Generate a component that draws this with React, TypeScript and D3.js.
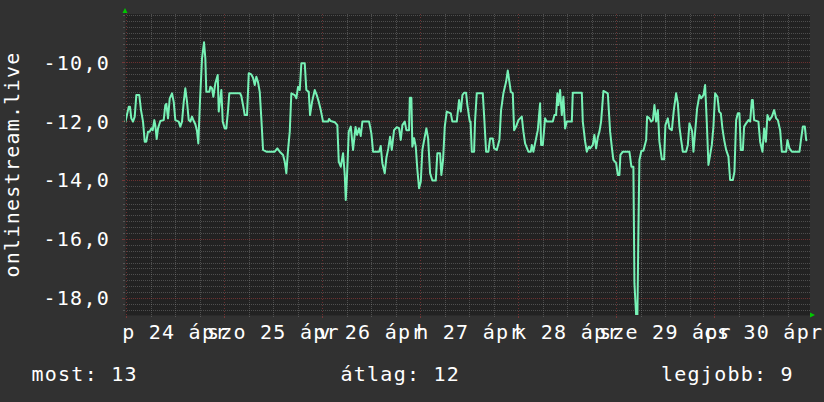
import React from 'react';
import * as d3 from 'd3';

const TITLE = 'onlinestream.live';
const DAY_LABELS = ['p 24 ápr', 'szo 25 ápr', 'v 26 ápr', 'h 27 ápr', 'k 28 ápr', 'sze 29 ápr', 'cs 30 ápr'];
const Y_MAJOR = [-10, -12, -14, -16, -18];
const Y_LABELS = ['-10,0', '-12,0', '-14,0', '-16,0', '-18,0'];
const LEGEND_LABELS = ['most', 'átlag', 'legjobb'];
const LEGEND_VALUES = [13, 12, 9];

// hours since 24 Apr 00:00
const HOURS = [
  -0.24, 0.59, 0.91, 1.22, 1.64, 2.06, 2.45, 3.18, 3.60, 4.09,
  4.51, 4.90, 5.31, 5.73, 6.12, 6.47, 6.86, 7.10, 7.44, 7.76,
  8.33, 9.16, 9.55, 9.80, 10.21, 10.63, 11.19, 11.61, 12.00, 12.83,
  13.22, 13.64, 14.06, 14.45, 14.87, 15.28, 15.67, 16.09, 16.51, 16.90,
  17.31, 17.63, 18.05, 18.54, 19.03, 19.35, 19.59, 20.33, 20.57, 20.99,
  21.31, 21.80, 22.38, 22.63, 23.27, 23.61, 24.10, 24.49, 24.91, 25.22,
  27.85, 28.16, 28.58, 29.00, 29.56, 29.98, 30.61, 31.03, 31.45, 31.84,
  32.25, 32.67, 33.06, 33.48, 34.29, 36.34, 36.98, 37.57, 38.38, 38.79,
  39.18, 39.60, 40.02, 40.41, 41.24, 41.63, 42.05, 42.47, 42.86, 43.69,
  44.08, 44.67, 44.99, 45.48, 46.14, 46.63, 47.12, 47.61, 48.17, 49.40,
  49.64, 50.06, 51.04, 51.67, 52.02, 52.51, 53.07, 53.49, 53.73, 54.05,
  54.47, 54.96, 55.52, 56.13, 56.50, 56.99, 57.40, 57.80, 59.44, 60.00,
  60.42, 61.89, 62.30, 62.69, 63.28, 63.67, 64.16, 64.58, 65.00, 65.56,
  66.22, 66.78, 67.20, 67.59, 68.18, 68.57, 69.23, 69.41, 69.80, 70.04,
  70.46, 70.87, 71.27, 71.68, 72.10, 72.49, 73.08, 73.47, 73.89, 74.38,
  74.94, 75.77, 76.16, 76.82, 77.14, 77.56, 77.97, 78.46, 79.45, 79.84,
  80.91, 81.48, 81.89, 82.29, 82.70, 83.19, 83.51, 84.10, 84.29, 84.59,
  85.15, 85.40, 85.81, 87.28, 87.67, 88.09, 88.65, 89.07, 89.73, 90.05,
  90.71, 91.35, 91.76, 92.33, 92.99, 93.40, 93.80, 94.14, 94.63, 94.95,
  95.44, 96.00, 96.83, 97.23, 97.64, 98.45, 99.04, 99.28, 99.67, 100.75,
  101.31, 101.56, 101.98, 102.54, 102.96, 104.43, 104.82, 105.23, 105.55, 105.80,
  106.21, 106.63, 107.02, 107.44, 107.85, 109.08, 109.32, 111.53, 111.77, 112.34,
  112.75, 113.24, 113.56, 114.22, 114.61, 115.03, 115.45, 115.84, 116.25, 116.82,
  117.89, 118.46, 118.95, 119.26, 119.93, 120.34, 120.74, 120.98, 121.57, 123.18,
  123.67, 124.16, 124.41, 124.83, 125.14, 125.39, 125.63, 126.12, 126.61, 127.28,
  127.52, 128.09, 128.50, 128.92, 129.31, 129.72, 130.14, 130.53, 131.12, 131.68,
  132.00, 132.59, 132.98, 133.57, 134.06, 134.62, 135.04, 135.43, 135.85, 136.26,
  137.07, 137.49, 137.88, 138.30, 138.54, 138.86, 139.28, 139.76, 140.33, 140.74,
  141.31, 141.72, 142.14, 142.53, 142.95, 143.36, 143.76, 144.17, 144.74, 145.15,
  145.57, 145.96, 146.38, 146.87, 147.43, 147.85, 148.51, 148.90, 149.31, 149.73,
  150.12, 150.47, 150.96, 151.27, 151.76, 152.33, 152.74, 153.16, 153.40, 153.72,
  154.77, 155.19, 155.76, 156.17, 156.59, 156.98, 157.47, 158.06, 158.62, 159.11,
  159.53, 160.09, 160.51, 161.56, 161.88, 162.37, 162.96, 164.82, 165.24, 165.65,
  166.14, 166.46, 166.63,
];

const VALUES = [
  -12.04, -11.52, -11.52, -11.91, -12.02, -11.85, -11.12, -11.12, -11.63, -12.02,
  -12.70, -12.70, -12.36, -12.36, -12.25, -12.31, -11.97, -12.14, -12.61, -12.25,
  -12.00, -11.97, -11.46, -11.42, -11.91, -11.23, -11.06, -11.35, -11.97, -12.02,
  -12.19, -12.02, -11.35, -10.89, -11.35, -11.97, -12.02, -11.85, -12.00, -12.11,
  -12.34, -12.76, -11.29, -9.87, -9.33, -9.87, -11.01, -11.01, -10.84, -10.89,
  -11.18, -10.72, -10.44, -11.68, -10.95, -12.02, -12.25, -12.25, -11.63, -11.06,
  -11.06, -11.15, -11.46, -11.80, -11.80, -10.38, -10.42, -10.53, -10.78, -10.50,
  -10.68, -11.01, -11.91, -12.98, -13.04, -13.04, -12.93, -13.04, -13.15, -13.38,
  -13.77, -12.98, -12.36, -11.06, -11.12, -11.23, -10.84, -10.95, -10.04, -10.04,
  -10.95, -11.01, -11.80, -11.35, -10.95, -11.12, -11.35, -11.63, -12.02, -12.02,
  -11.93, -12.00, -12.04, -12.14, -13.38, -13.55, -13.09, -13.83, -14.68, -13.83,
  -12.36, -12.19, -12.98, -12.20, -12.47, -12.25, -12.51, -12.02, -12.02, -12.42,
  -13.04, -13.04, -12.85, -13.43, -13.77, -13.26, -12.92, -12.53, -12.98, -12.31,
  -12.21, -12.24, -12.64, -12.14, -12.02, -12.31, -12.31, -11.21, -11.21, -12.87,
  -12.58, -12.87, -13.66, -14.28, -14.06, -12.98, -12.53, -12.25, -12.58, -13.77,
  -14.02, -14.02, -13.09, -13.09, -13.83, -13.32, -12.19, -11.68, -11.74, -12.02,
  -12.02, -11.29, -11.68, -11.12, -11.04, -11.04, -11.46, -12.02, -12.02, -13.04,
  -13.04, -11.97, -11.06, -11.06, -11.97, -13.04, -13.04, -12.59, -12.59, -12.93,
  -12.98, -12.64, -11.63, -11.06, -10.67, -10.29, -10.67, -11.01, -11.06, -12.31,
  -12.19, -11.97, -11.85, -12.36, -12.76, -13.04, -13.04, -12.81, -13.04, -12.31,
  -11.40, -12.81, -12.81, -11.91, -12.02, -12.02, -11.80, -11.80, -11.06, -11.46,
  -10.95, -11.80, -11.18, -12.25, -12.02, -12.02, -11.04, -11.04, -12.02, -12.70,
  -13.04, -12.87, -12.93, -12.81, -12.47, -12.93, -12.55, -12.36, -12.02, -10.98,
  -11.06, -12.36, -12.98, -13.32, -13.43, -13.83, -13.83, -13.15, -13.04, -13.04,
  -13.55, -13.55, -17.50, -18.58, -18.58, -15.69, -13.32, -13.01, -13.01, -12.64,
  -11.85, -11.91, -12.02, -11.97, -11.46, -12.02, -11.63, -12.70, -13.30, -13.30,
  -12.14, -11.91, -12.25, -12.31, -11.63, -11.06, -11.40, -12.19, -12.64, -13.04,
  -13.04, -12.81, -12.08, -12.24, -12.36, -13.04, -12.36, -11.57, -11.12, -11.23,
  -11.12, -10.78, -12.08, -13.49, -13.15, -12.81, -12.19, -11.06, -11.18, -11.68,
  -11.74, -12.25, -12.64, -12.98, -13.21, -14.00, -14.00, -13.72, -11.97, -11.74,
  -11.74, -12.98, -12.98, -12.19, -12.08, -11.97, -12.02, -11.29, -11.29, -11.97,
  -12.02, -12.70, -13.04, -12.25, -12.70, -11.80, -11.97, -11.85, -11.63, -11.91,
  -11.97, -12.31, -13.04, -13.04, -12.64, -12.93, -13.04, -13.04, -12.59, -12.19,
  -12.19, -12.64, -12.67,
];

const W = 824;
const H = 402;
const PL = 125;
const PR = 810;
const PT = 14;
const PB = 315;
const FONT = "'DejaVu Sans Mono', monospace";
const FS = 20;
const LS = 1.25;
const TXT = '#ffffff';

export default function App() {
  const x = d3.scaleLinear().domain([-0.32, 167.4]).range([PL, PR]);
  const y = d3.scaleLinear().domain([-18.58, -8.37]).range([PB, PT]);

  const data = HOURS.map((h, i) => [h, VALUES[i]] as [number, number]);
  const line = d3
    .line<[number, number]>()
    .x((d) => x(d[0]))
    .y((d) => y(d[1]));

  const minorY = d3.range(-92, -41).map((k) => k / 5).filter((v) => Math.abs(v - Math.round(v / 2) * 2) > 1e-6);
  const minorX = d3.range(0, 168, 6).filter((h) => h % 24 !== 0);
  const majorX = d3.range(0, 168, 24);

  const minorCol = 'rgba(140,140,140,0.42)';
  const majorCol = 'rgba(170,60,60,0.55)';
  const px = (v: number) => Math.round(v) + 0.5;

  return (
    <svg width={W} height={H} style={{ display: 'block', position: 'absolute', left: 0, top: 0 }}>
      <rect x={0} y={0} width={W} height={H} fill="#313131" />
      <rect x={PL} y={PT} width={PR - PL} height={PB - PT} fill="#222222" />

      {minorY.map((v) => (
        <g key={'my' + v}>
          <line x1={PL} x2={PR} y1={px(y(v))} y2={px(y(v))} stroke={minorCol} strokeDasharray="1,1" />
          <line x1={PL - 2} x2={PL} y1={px(y(v))} y2={px(y(v))} stroke={minorCol} />
        </g>
      ))}
      {minorX.map((h) => (
        <g key={'mx' + h}>
          <line x1={px(x(h))} x2={px(x(h))} y1={PT} y2={PB} stroke={minorCol} strokeDasharray="1,1" />
          <line x1={px(x(h))} x2={px(x(h))} y1={PB} y2={PB + 2} stroke={minorCol} />
        </g>
      ))}
      {Y_MAJOR.map((v) => (
        <g key={'My' + v}>
          <line x1={PL} x2={PR} y1={px(y(v))} y2={px(y(v))} stroke={majorCol} strokeDasharray="1,1" />
          <line x1={PL - 3} x2={PL} y1={px(y(v))} y2={px(y(v))} stroke={majorCol} />
        </g>
      ))}
      {majorX.map((h) => (
        <g key={'Mx' + h}>
          <line x1={px(x(h))} x2={px(x(h))} y1={PT} y2={PB} stroke={majorCol} strokeDasharray="1,2" />
          <line x1={px(x(h))} x2={px(x(h))} y1={PB} y2={PB + 3} stroke={majorCol} />
        </g>
      ))}

      <path d={line(data) || ''} fill="none" stroke="#77f2b6" strokeWidth={2} strokeLinejoin="round" />

      <line x1={PL} x2={PR + 3} y1={PB + 0.5} y2={PB + 0.5} stroke="#2a2a2a" />
      <line x1={PL + 0.5} x2={PL + 0.5} y1={PB} y2={PT - 2} stroke="#2a2a2a" />
      <polygon points={`${PL - 2.5},${PT - 1} ${PL + 2.5},${PT - 1} ${PL},${PT - 6}`} fill="#00c800" />
      <polygon points={`${PR},${PB - 2.5} ${PR},${PB + 2.5} ${PR + 5},${PB}`} fill="#00c800" />

      <g fontFamily={FONT} fontSize={FS} fill={TXT} style={{ letterSpacing: `${LS}px` }}>
        {Y_MAJOR.map((v, i) => (
          <text key={'yl' + v} x={110} y={y(v) + 7.5} textAnchor="end">
            {Y_LABELS[i]}
          </text>
        ))}
        {DAY_LABELS.map((t, i) => (
          <text key={'xl' + i} x={x(i * 24 + 12)} y={339} textAnchor="middle">
            {t}
          </text>
        ))}
        <text transform={`translate(18.5,${(PT + PB) / 2}) rotate(-90)`} textAnchor="middle">
          {TITLE}
        </text>
        {LEGEND_LABELS.map((l, i) => (
          <text key={'lg' + i} x={[31.5, 340.5, 661][i]} y={381}>
            {`${l}: ${LEGEND_VALUES[i]}`}
          </text>
        ))}
      </g>
    </svg>
  );
}
